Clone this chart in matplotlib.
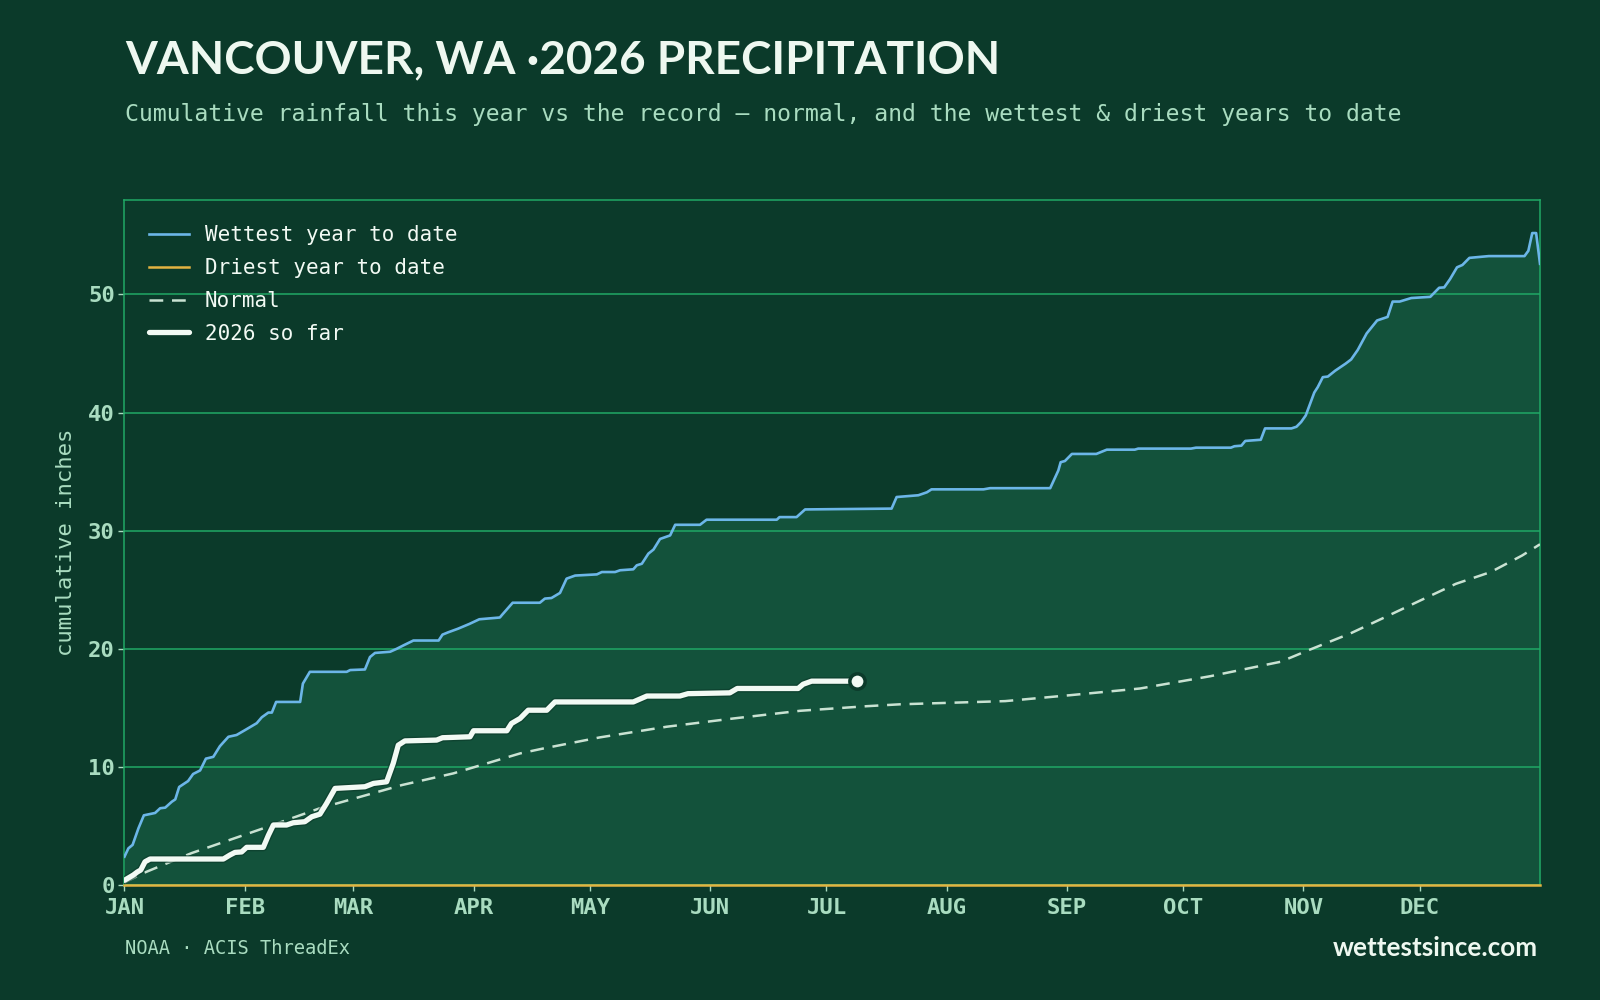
import numpy as np
import matplotlib
matplotlib.use("Agg")
import matplotlib.pyplot as plt
import matplotlib.patheffects as pe

# colours
BG = '#0b3a2a'
FILL = '#13523b'
GRID = '#20a865'
WET = '#6cb6e8'
DRY = '#e3b341'
NORMAL = '#c9e2d2'
NOW = '#f2faf4'
MINT = '#a9dcc0'
TITLE = '#eef8f0'

# month ticks (day of year, Jan 1 = 0)
month_days = [0, 31, 59, 90, 120, 151, 181, 212, 243, 273, 304, 334]
month_labels = ['JAN', 'FEB', 'MAR', 'APR', 'MAY', 'JUN',
                'JUL', 'AUG', 'SEP', 'OCT', 'NOV', 'DEC']

# wettest year to date (day, cumulative inches)
wettest = [
    (0, 2.4), (1, 3.1), (2.1, 3.4), (3.6, 4.8), (5, 5.9), (7.9, 6.1), (9.2, 6.5),
    (10.5, 6.55), (12.2, 7.05), (13.1, 7.25), (14.1, 8.3), (16.4, 8.8), (17.7, 9.4),
    (19.5, 9.7), (21, 10.7), (22.9, 10.85), (24.6, 11.75), (26.8, 12.55), (28.9, 12.7),
    (31, 13.1), (34.1, 13.7), (35.4, 14.2), (37.1, 14.6), (38, 14.6), (39.1, 15.5),
    (45.3, 15.5), (46, 17.05), (47.8, 18.05), (57.3, 18.05), (58.2, 18.2), (62, 18.25),
    (63.3, 19.3), (64.6, 19.65), (68.5, 19.75), (70.2, 20.0), (72, 20.3), (74.5, 20.7),
    (81, 20.7), (82, 21.2), (83.5, 21.4), (86, 21.7), (88.9, 22.1), (91.5, 22.5),
    (96.8, 22.65), (97.3, 22.85), (100.1, 23.9), (107.1, 23.9), (108.4, 24.25),
    (110.1, 24.3), (112.3, 24.73), (114, 25.94), (116.2, 26.2), (121.8, 26.3),
    (123.1, 26.5), (126.5, 26.5), (127.8, 26.65), (131.2, 26.73), (132.1, 27.07),
    (133.4, 27.2), (135.1, 28.06), (136.4, 28.4), (138.1, 29.3), (140.7, 29.6),
    (142, 30.5), (148.4, 30.5), (150.1, 30.93), (168.2, 30.93), (168.9, 31.15),
    (173.3, 31.15), (175.5, 31.8), (197.8, 31.87), (199.1, 32.85), (204.7, 33.0),
    (206.9, 33.25), (208.1, 33.5), (221.5, 33.5), (223.2, 33.6), (238.7, 33.6),
    (240.8, 35.1), (241.4, 35.8), (242.5, 35.9), (244.3, 36.5), (250.6, 36.5),
    (253.3, 36.86), (260.5, 36.86), (261.4, 36.95), (275, 36.95), (276.3, 37.03),
    (285.3, 37.03), (286.2, 37.15), (288, 37.2), (289, 37.6), (293, 37.7),
    (294.1, 38.66), (300.9, 38.66), (302.2, 38.8), (303.4, 39.2), (304.6, 39.76),
    (306.8, 41.7), (307.7, 42.16), (309, 43.0), (310.3, 43.05), (312.2, 43.55),
    (314.9, 44.15), (316.3, 44.5), (318, 45.3), (320.3, 46.7), (323, 47.8),
    (325.7, 48.1), (327, 49.4), (328.8, 49.4), (331.8, 49.7), (336.7, 49.8),
    (339, 50.57), (340.3, 50.6), (341.8, 51.3), (343.6, 52.3), (345, 52.5),
    (346.8, 53.1), (351.8, 53.25), (361, 53.25), (362, 53.7), (363, 55.2),
    (364, 55.2), (365, 52.6),
]

# driest year to date
driest = [(0, 0.0), (365, 0.0)]

# normal
normal = [
    (0, 0.2), (4.8, 1.0), (17.3, 2.7), (35.8, 4.8), (50.4, 6.5), (71.5, 8.46),
    (84.8, 9.45), (102, 11.14), (108, 11.56), (122.6, 12.5), (139.8, 13.4),
    (157, 14.1), (174.2, 14.75), (191.4, 15.14), (200, 15.3), (227.1, 15.57),
    (243.8, 16.07), (261.9, 16.64), (280, 17.68), (298.1, 18.9), (305.3, 19.88),
    (316.1, 21.3), (325.2, 22.7), (334.2, 24.1), (343.3, 25.5), (352.3, 26.5),
    (360.4, 27.9), (365, 28.85),
]

# 2026 so far
this_year = [
    (0, 0.4), (2.3, 0.85), (3.3, 1.1), (4.2, 1.27), (5.3, 1.97), (6.6, 2.2),
    (25.5, 2.2), (27.2, 2.54), (28.5, 2.76), (30.2, 2.8), (31.5, 3.19), (35.8, 3.19),
    (37.1, 4.2), (38.4, 5.08), (41.8, 5.08), (43.5, 5.27), (46.5, 5.36), (48.3, 5.78),
    (50.4, 6.0), (52.1, 6.9), (54.3, 8.18), (62, 8.32), (64.2, 8.6), (67.6, 8.74),
    (69.3, 10.3), (70.6, 11.84), (72.3, 12.2), (80.5, 12.27), (82, 12.47),
    (89.1, 12.55), (90, 13.06), (98.6, 13.06), (99.8, 13.68), (102, 14.1),
    (104.1, 14.8), (108.9, 14.8), (111, 15.5), (131.2, 15.5), (134.7, 16.0),
    (143.2, 16.0), (145.3, 16.2), (156.1, 16.27), (158, 16.64), (173.7, 16.64),
    (175, 17.0), (177.2, 17.26), (189, 17.26),
]

wx, wy = np.array(wettest).T
dx, dy = np.array(driest).T
nx, ny = np.array(normal).T
tx, ty = np.array(this_year).T

fig = plt.figure(figsize=(16, 10), dpi=100, facecolor=BG)
ax = fig.add_axes([0.0778, 0.115, 0.8847, 0.685])
ax.set_facecolor(BG)

ax.fill_between(wx, 0, wy, color=FILL, zorder=0.3, lw=0)
ax.plot(wx, wy, color=WET, lw=1.9, label='Wettest year to date', zorder=3)
ax.plot(dx, dy, color=DRY, lw=1.8, label='Driest year to date', zorder=3.5, clip_on=False)
ax.plot(nx, ny, color=NORMAL, lw=1.8, dashes=(5.5, 3.5), label='Normal', zorder=3)
ax.plot(tx, ty, color=NOW, lw=3.8, label='2026 so far', zorder=4,
        solid_capstyle='round', solid_joinstyle='round',
        path_effects=[pe.Stroke(linewidth=5.8, foreground=BG, alpha=0.6), pe.Normal()])
ax.plot(tx[-1], ty[-1], 'o', ms=11, mfc=NOW, mec=BG, mew=2.5, zorder=5)

ax.set_xlim(0, 365)
ax.set_ylim(0, 58)
ax.set_axisbelow(True)
ax.yaxis.grid(True, color=GRID, lw=1.1)
ax.xaxis.grid(False)

for s in ax.spines.values():
    s.set_color(GRID)
    s.set_linewidth(1.1)

ax.set_xticks(month_days)
ax.set_xticklabels(month_labels)
ax.set_yticks([0, 10, 20, 30, 40, 50])
ax.tick_params(colors=MINT, length=4, width=1, labelsize=16)
ax.tick_params(axis='x', pad=5)
ax.tick_params(axis='y', pad=3)
for lab in ax.get_xticklabels() + ax.get_yticklabels():
    lab.set_family('DejaVu Sans Mono')
    lab.set_weight('bold')
    lab.set_color(MINT)

ax.set_ylabel('cumulative inches', family='DejaVu Sans Mono', fontsize=16, color=MINT)
ax.yaxis.set_label_coords(-0.034, 0.5)

leg = ax.legend(loc='upper left', frameon=False, handlelength=1.9, handletextpad=0.75,
                labelspacing=0.62, borderaxespad=0.8,
                prop={'family': 'DejaVu Sans Mono', 'size': 15})
for t in leg.get_texts():
    t.set_color(NOW)

fig.text(0.078, 0.940, 'VANCOUVER, WA ·2026 PRECIPITATION', fontsize=33,
         weight='bold', family='Lato', color=TITLE, va='center', ha='left')
fig.text(0.078, 0.885, 'Cumulative rainfall this year vs the record — normal, and the wettest & driest years to date',
         fontsize=16.65, family='DejaVu Sans Mono', color=MINT, va='center', ha='left')
fig.text(0.078, 0.052, 'NOAA · ACIS ThreadEx', fontsize=13.5, family='DejaVu Sans Mono',
         color=MINT, va='center', ha='left')
fig.text(0.961, 0.052, 'wettestsince.com', fontsize=18.8, weight='bold', family='Lato',
         color=TITLE, va='center', ha='right')

fig.savefig('out.png', dpi=100, facecolor=BG)
